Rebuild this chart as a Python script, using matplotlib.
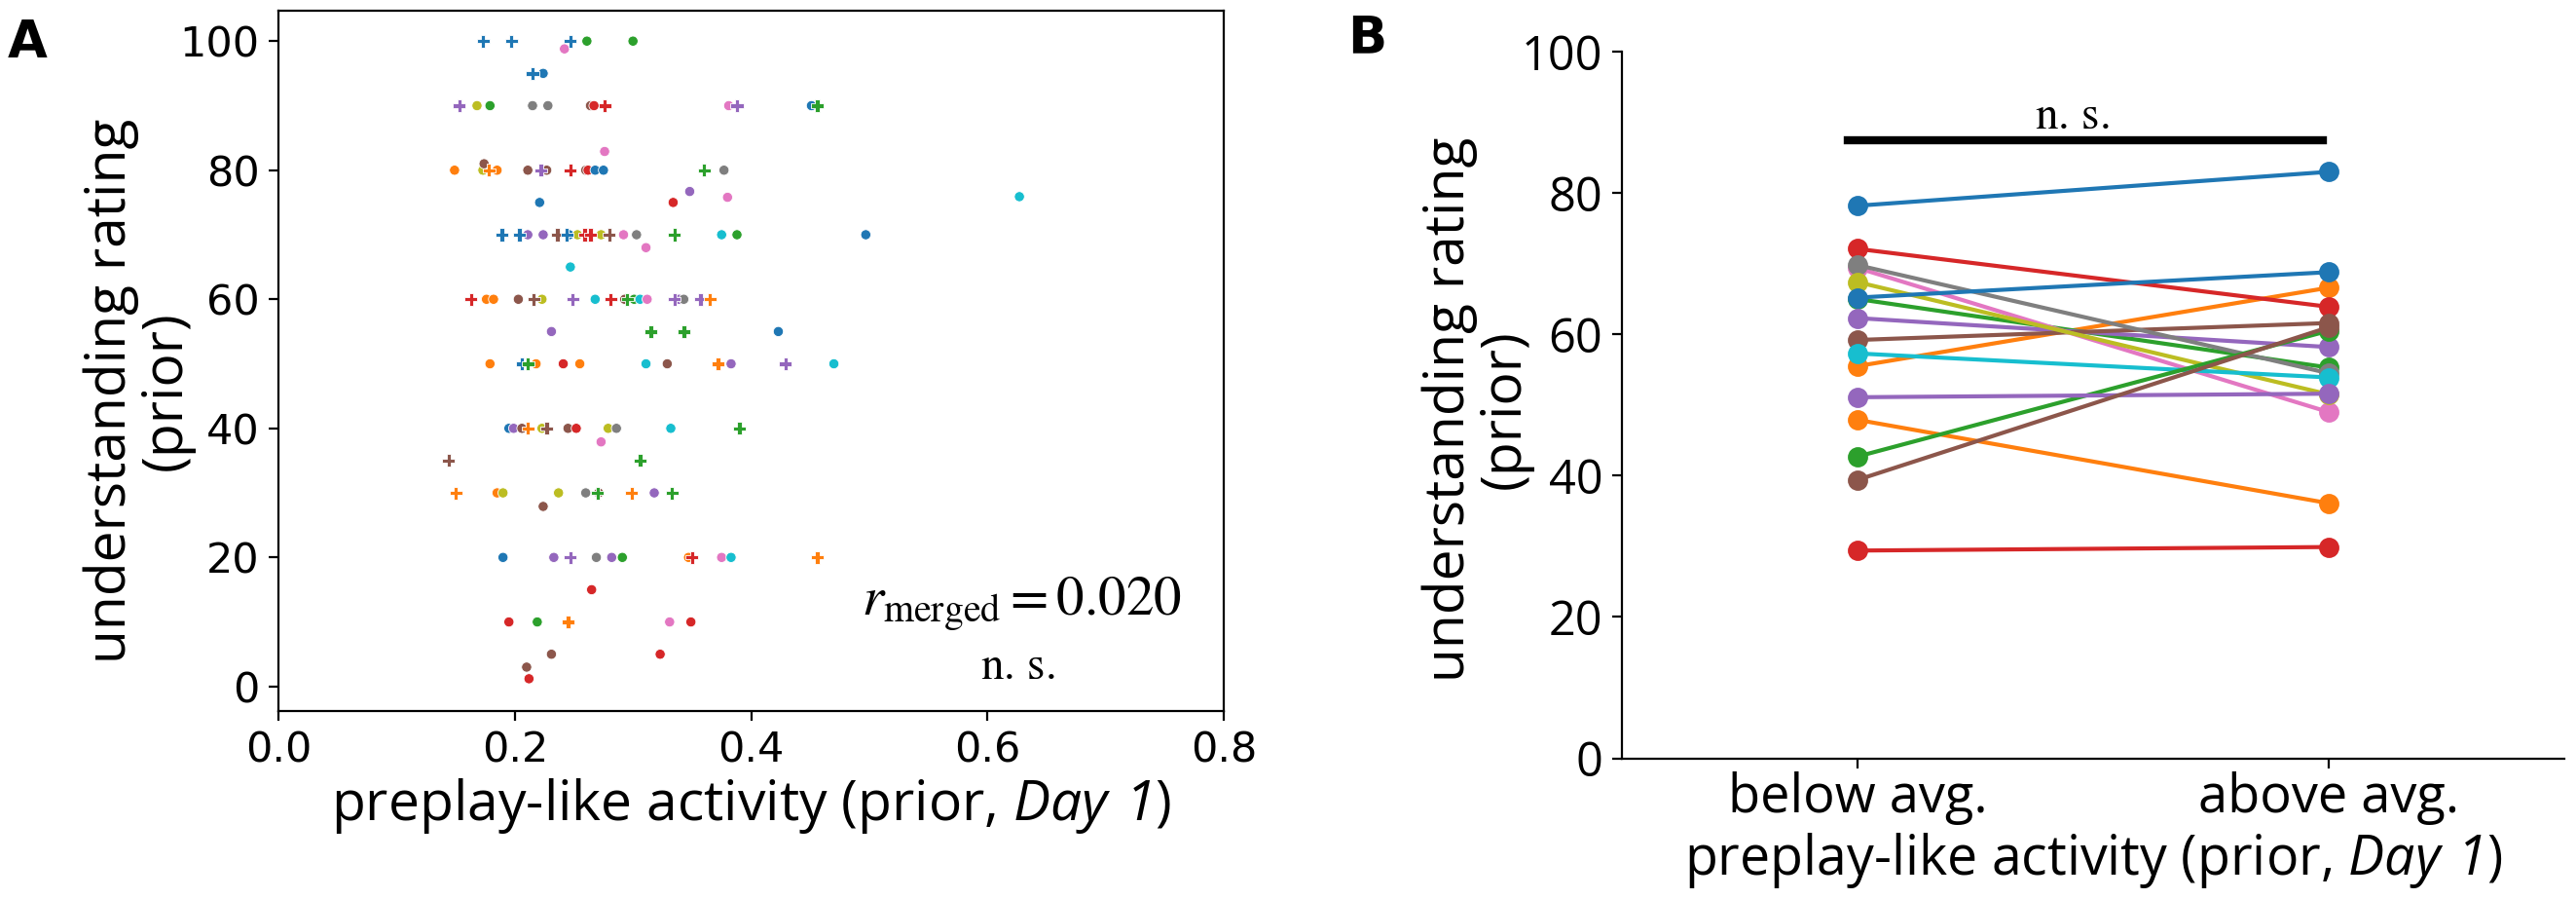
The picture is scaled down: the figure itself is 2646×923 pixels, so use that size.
import numpy as np
import matplotlib.pyplot as plt

plt.rcParams['font.family'] = ['DejaVu Sans']
plt.rcParams['mathtext.fontset'] = 'custom'
plt.rcParams['mathtext.rm'] = 'Open Sans'
plt.rcParams['mathtext.sf'] = 'Open Sans:italic'

tab = plt.rcParams['axes.prop_cycle'].by_key()['color']

# panel A: circles (x, y, colour index in tab10)
circ_x = [0.261, 0.300, 0.242, 0.224,
          0.168, 0.179, 0.215, 0.228, 0.264, 0.267, 0.381, 0.451,
          0.276,
          0.149, 0.173, 0.185, 0.211, 0.227, 0.260, 0.262, 0.268, 0.275, 0.377, 0.174,
          0.348, 0.380, 0.334, 0.221, 0.627,
          0.211, 0.224, 0.246, 0.253, 0.273, 0.292, 0.303, 0.375, 0.388, 0.497,
          0.311, 0.247,
          0.176, 0.182, 0.203, 0.223, 0.268, 0.293, 0.301, 0.306, 0.312, 0.339, 0.343,
          0.423, 0.231,
          0.179, 0.218, 0.241, 0.255, 0.311, 0.329, 0.383, 0.470,
          0.195, 0.199, 0.206, 0.223, 0.245, 0.252, 0.279, 0.286, 0.332,
          0.273,
          0.185, 0.190, 0.237, 0.260, 0.271, 0.318,
          0.224,
          0.190, 0.233, 0.269, 0.282, 0.291, 0.347, 0.375, 0.383,
          0.265,
          0.195, 0.219, 0.331, 0.349,
          0.323, 0.231, 0.210, 0.212]
circ_y = [100, 100, 98.8, 95,
          90, 90, 90, 90, 90, 90, 90, 90,
          82.9,
          80, 80, 80, 80, 80, 80, 80, 80, 80, 80, 81,
          76.7, 75.8, 75, 75, 75.9,
          70, 70, 70, 70, 70, 70, 70, 70, 70, 70,
          68, 65,
          60, 60, 60, 60, 60, 60, 60, 60, 60, 60, 60,
          55, 55,
          50, 50, 50, 50, 50, 50, 50, 50,
          40, 40, 40, 40, 40, 40, 40, 40, 40,
          37.9,
          30, 30, 30, 30, 30, 30,
          27.9,
          20, 20, 20, 20, 20, 20, 20, 20,
          15,
          10, 10, 10, 10,
          5, 5, 3, 1.2]
circ_c = [2, 2, 6, 0,
          8, 2, 7, 7, 5, 3, 6, 0,
          6,
          1, 8, 1, 5, 5, 5, 3, 0, 0, 7, 5,
          4, 6, 3, 0, 9,
          4, 4, 0, 8, 8, 6, 7, 9, 2, 0,
          6, 9,
          1, 1, 5, 8, 9, 5, 2, 9, 6, 4, 7,
          0, 4,
          1, 1, 3, 1, 9, 5, 4, 9,
          0, 4, 5, 8, 5, 3, 8, 7, 9,
          6,
          1, 8, 8, 7, 5, 4,
          5,
          0, 4, 7, 4, 2, 1, 6, 9,
          3,
          3, 2, 6, 3,
          3, 5, 5, 3]

# panel A: plus markers
plus_x = [0.173, 0.197, 0.247, 0.215,
          0.153, 0.276, 0.388, 0.456,
          0.178, 0.222, 0.247, 0.360,
          0.189, 0.204, 0.236, 0.244, 0.259, 0.264, 0.280, 0.335,
          0.163, 0.216, 0.249, 0.281, 0.295, 0.335, 0.357, 0.365,
          0.315, 0.343,
          0.206, 0.211, 0.372, 0.429,
          0.211, 0.227, 0.390,
          0.144, 0.306,
          0.150, 0.270, 0.299, 0.333,
          0.247, 0.350, 0.456,
          0.245]
plus_y = [100, 100, 100, 95,
          90, 90, 90, 90,
          80, 80, 80, 80,
          70, 70, 70, 70, 70, 70, 70, 70,
          60, 60, 60, 60, 60, 60, 60, 60,
          55, 55,
          50, 50, 50, 50,
          40, 40, 40,
          35, 35,
          30, 30, 30, 30,
          20, 20, 20,
          10]
plus_c = [0, 0, 0, 0,
          4, 3, 4, 2,
          1, 4, 3, 2,
          0, 0, 5, 0, 3, 3, 5, 2,
          3, 5, 4, 3, 2, 4, 4, 1,
          2, 2,
          0, 2, 1, 4,
          1, 5, 2,
          5, 2,
          1, 2, 1, 2,
          4, 3, 1,
          1]

# panel B: one line per participant, cycle colours in drawing order
below = [78.2, 55.5, 65.0, 72.1, 62.3, 59.2, 69.4, 69.8, 67.4, 57.3,
         65.2, 47.9, 42.7, 29.4, 51.1, 39.4]
above = [83.0, 66.6, 55.3, 63.9, 58.2, 61.6, 49.0, 54.5, 51.5, 53.9,
         68.8, 36.1, 60.5, 29.9, 51.6, 61.0]
groups = ['below avg.', 'above avg.']

fig = plt.figure(figsize=(13.23, 4.615), dpi=200)

lab_font = 'Open Sans'
xlab = r'preplay-like activity (prior, $\mathsf{Day\ 1}$)'
ylab = 'understanding rating\n(prior)'

# ---- A ----
axA = fig.add_axes([0.1081, 0.2091, 0.3670, 0.7789])
axA.scatter(circ_x, circ_y, s=14, c=[tab[i] for i in circ_c], marker='o',
            edgecolors='w', linewidths=0.3)
axA.scatter(plus_x, plus_y, s=22, c=[tab[i] for i in plus_c], marker='P',
            edgecolors='w', linewidths=0.3)
axA.set_xlim(0, 0.8)
axA.set_ylim(-3.8, 104.7)
axA.set_xticks([0.0, 0.2, 0.4, 0.6, 0.8])
axA.set_yticks([0, 20, 40, 60, 80, 100])
axA.tick_params(labelsize=15.5)
axA.set_xlabel(xlab, fontsize=20.5, family=lab_font, labelpad=2)
axA.set_ylabel(ylab, fontsize=20.5, family=lab_font, linespacing=1.0)
axA.yaxis.set_label_coords(-0.089, 0.457)
axA.text(0.764, 10.9, r'$r_{\mathrm{merged}} = 0.020$', fontsize=20.5,
         math_fontfamily='stix', ha='right', va='baseline')
axA.text(0.626, 1.25, r'$\mathrm{n.\,s.}$', fontsize=17,
         math_fontfamily='stix', ha='center', va='baseline')

# ---- B ----
axB = fig.add_axes([0.6296, 0.1565, 0.3658, 0.7860])
for b, a in zip(below, above):
    axB.plot([0, 1], [b, a], marker='o', markersize=6.5, linewidth=1.5)
axB.plot([-0.02, 0.987], [87.4, 87.4], color='k', linewidth=3)
axB.text(0.455, 89.1, r'$\mathrm{n.\,s.}$', fontsize=17,
         math_fontfamily='stix', ha='center', va='baseline')
axB.set_xlim(-0.5, 1.5)
axB.set_ylim(0, 100)
axB.set_xticks([0, 1])
axB.set_xticklabels(groups, fontsize=19.5, family=lab_font)
axB.set_yticks([0, 20, 40, 60, 80, 100])
axB.set_yticklabels(['0', '20', '40', '60', '80', '100'], fontsize=17.5,
                    family=lab_font)
axB.tick_params(axis='x', pad=1.5)
axB.spines['top'].set_visible(False)
axB.spines['right'].set_visible(False)
axB.set_xlabel(xlab, fontsize=20, family=lab_font, labelpad=2)
axB.set_ylabel(ylab, fontsize=20.5, family=lab_font, linespacing=1.0)
axB.yaxis.set_label_coords(-0.094, 0.494)

fig.text(0.003, 0.98, 'A', fontsize=19, fontweight='bold', va='top')
fig.text(0.523, 0.986, 'B', fontsize=19, fontweight='bold', va='top')

fig.savefig('out.png', dpi=200)
